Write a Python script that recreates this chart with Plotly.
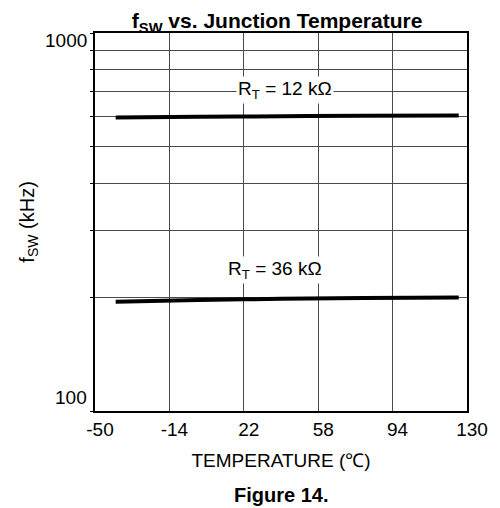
import math
import plotly.graph_objects as go

temp = [-40, 0, 40, 80, 126]
f_12k = [598, 600, 602, 604, 605]
f_36k = [194.5, 196.5, 198, 199, 199.5]

y_ticks = [100, 200, 300, 400, 500, 600, 700, 800, 900, 1000]
y_labels = [100, 1000]
x_ticks = [-50, -14, 22, 58, 94, 130]
x_text = ["-50", "-14", "22", "58", "94", "130"]

labels = ["R<sub>T</sub> = 12 kΩ", "R<sub>T</sub> = 36 kΩ"]
label_x = [42, 37]
label_y = [707, 236]

fig = go.Figure()
for ys in (f_12k, f_36k):
    fig.add_trace(go.Scatter(x=temp, y=ys, mode="lines",
                             line=dict(color="black", width=4, shape="spline"),
                             showlegend=False))

font = dict(family="Liberation Sans, Arial, sans-serif", color="black")
for t, lx, ly in zip(labels, label_x, label_y):
    fig.add_annotation(x=lx, y=math.log10(ly), text=t, showarrow=False,
                       bgcolor="white", borderpad=1,
                       font=dict(size=19, **font))

# y tick labels (only 100 and 1000 are labelled in the reference)
y_shift = {100: 14, 1000: -7}
for v in y_labels:
    fig.add_annotation(x=0, xref="paper", y=math.log10(v), text=str(v),
                       showarrow=False, xanchor="right", xshift=-6,
                       yshift=y_shift[v], font=dict(size=19, **font))

fig.add_annotation(x=-0.22, y=0.5, xref="paper", yref="paper",
                   text="f<sub>SW</sub> (kHz)", textangle=-90, showarrow=False,
                   font=dict(size=20, **font))
fig.add_annotation(x=0.5, y=-0.222, xref="paper", yref="paper",
                   text="<b>Figure 14.</b>", showarrow=False,
                   yanchor="middle", font=dict(size=20, **font))

# figure is drawn inside the page's 8px body margin
fig.update_layout(
    width=492, height=500,
    margin=dict(l=87, r=28, t=25, b=97),
    paper_bgcolor="white", plot_bgcolor="white",
    font=dict(size=19, **font),
    title=dict(text="<b>f<sub>SW</sub> vs. Junction Temperature</b>",
               x=0.547, xanchor="center", y=0.974, yanchor="middle",
               font=dict(size=21, **font)),
    xaxis=dict(range=[-50, 130], tickvals=x_ticks, ticktext=x_text,
               showgrid=True, gridcolor="#4a4a4a", gridwidth=1.2, showline=True,
               mirror=True, linecolor="black", linewidth=2, zeroline=False,
               ticks="", ticklabelshift=5,
               title=dict(text="TEMPERATURE (℃)", standoff=15,
                          font=dict(size=19)),
               tickfont=dict(size=19)),
    yaxis=dict(type="log", range=[2, 3], tickvals=y_ticks,
               showticklabels=False,
               showgrid=True, gridcolor="#4a4a4a", gridwidth=1.2, showline=True,
               mirror=True, linecolor="black", linewidth=2, zeroline=False,
               ticks="outside", ticklen=3, tickcolor="black"),
)

fig.write_html("out.html")
